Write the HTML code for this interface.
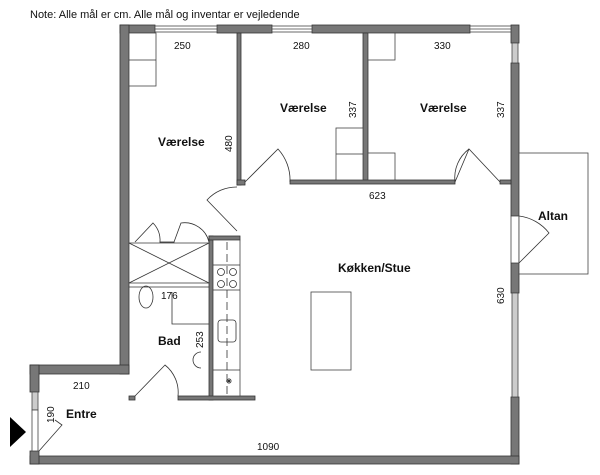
<!DOCTYPE html>
<html><head><meta charset="utf-8"><style>
body{margin:0;background:#fff}
svg{display:block}
text{font-family:"Liberation Sans",sans-serif;fill:#111}
.b{font-weight:bold;font-size:12px}
.s{font-size:10px}
</style></head><body>
<svg width="600" height="475" viewBox="0 0 600 475">
<text x="30" y="18" style="font-size:11px">Note: Alle mål er cm. Alle mål og inventar er vejledende</text>
<g fill="#777" stroke="#333" stroke-width="0.8">
<!-- top wall -->
<rect x="120" y="25" width="35" height="8"/>
<rect x="217" y="25" width="55" height="8"/>
<rect x="312" y="25" width="158" height="8"/>
<!-- right wall -->
<rect x="511" y="25" width="8" height="18"/>
<rect x="511" y="63" width="8" height="153"/>
<rect x="511" y="263" width="8" height="30"/>
<rect x="511" y="397" width="8" height="67"/>
<!-- bottom -->
<rect x="30" y="456" width="489" height="8"/>
<!-- left walls -->
<rect x="120" y="25" width="9" height="349"/>
<rect x="30" y="365" width="99" height="9"/>
<rect x="30" y="365" width="9" height="27"/>
<rect x="30" y="451" width="9" height="13"/>
<!-- interior -->
<rect x="237" y="33" width="4" height="152"/>
<rect x="363" y="33" width="5" height="150"/>
<rect x="290" y="180" width="165" height="4"/>
<rect x="500" y="180" width="11" height="4"/>
<rect x="237" y="180" width="8" height="5"/>
<rect x="209" y="236" width="4" height="164"/>
<rect x="209" y="236" width="31" height="4"/>
<rect x="129" y="396" width="6" height="4"/>
<rect x="178" y="396" width="77" height="4"/>
<rect x="160" y="242" width="14" height="4"/>
</g>
<g fill="#fff" stroke="#444" stroke-width="0.8">
<!-- windows -->
<rect x="155" y="26" width="62" height="6"/><line x1="155" y1="29" x2="217" y2="29"/>
<rect x="272" y="26" width="40" height="6"/><line x1="272" y1="29" x2="312" y2="29"/>
<rect x="470" y="26" width="41" height="6"/><line x1="470" y1="29" x2="511" y2="29"/>
<rect x="512" y="43" width="6" height="20" fill="#ccc"/>
<rect x="512" y="293" width="6" height="104" fill="#ccc"/>
<rect x="32" y="392" width="6" height="18" fill="#ccc"/>
<rect x="32" y="410" width="6" height="41"/>
<rect x="511" y="216" width="8" height="47"/>
<!-- altan -->
<rect x="519" y="153" width="69" height="121"/>
<!-- island -->
<rect x="311" y="292" width="40" height="78"/>
<!-- counter -->
<rect x="213" y="240" width="27" height="156"/>
<!-- closet -->
<rect x="129" y="243" width="80" height="40"/>
<rect x="129" y="287" width="80" height="0"/>
<!-- wardrobes -->
<rect x="129" y="33" width="27" height="53"/>
<rect x="336" y="128" width="27" height="52"/>
<rect x="368" y="33" width="27" height="27"/>
<rect x="368" y="153" width="27" height="27"/>
</g>
<g fill="none" stroke="#333" stroke-width="0.8">
<line x1="129" y1="60" x2="156" y2="60"/>
<line x1="336" y1="154" x2="363" y2="154"/>
<line x1="129" y1="243" x2="209" y2="283"/><line x1="209" y1="243" x2="129" y2="283"/>
<line x1="129" y1="287" x2="209" y2="287"/>
<line x1="227" y1="242" x2="227" y2="395" stroke-dasharray="8,4"/>
<line x1="213" y1="265" x2="240" y2="265"/><line x1="213" y1="290" x2="240" y2="290"/><line x1="213" y1="370" x2="240" y2="370"/>
<circle cx="221" cy="272" r="3.5"/><circle cx="233" cy="272" r="3.5"/><circle cx="221" cy="284" r="3.5"/><circle cx="233" cy="284" r="3.5"/>
<rect x="218" y="320" width="18" height="22" rx="3"/>
<path d="M226 381 l6 0 M229 378 l0 6 M227 379 l4 4 M231 379 l-4 4"/>
<ellipse cx="146" cy="297" rx="7" ry="11"/>
<path d="M201 352 a8 8 0 0 0 0 16"/>
<path d="M172 292 L172 324 L209 324"/>
<!-- doors -->
<path d="M245 182 L278 149 A46 46 0 0 1 290 182"/>
<path d="M455 182 L469 149 L500 182"/>
<path d="M455 182 A36 36 0 0 1 469 149"/>
<path d="M237 187 A40 40 0 0 0 207 200 L237 231"/>
<path d="M135 396 L165 365 A35 35 0 0 1 178 396"/>
<path d="M135 242 L153 223 A25 25 0 0 1 160 242 M174 242 L181 223 A25 25 0 0 1 209 242"/>
<path d="M519 263 L549 233 A45 45 0 0 0 519 216"/>
<path d="M39 451 L62 425 L55 420"/>
</g>
<polygon points="10,417 26,432 10,447" fill="#000"/>
<text class="b" x="158" y="146">Værelse</text>
<text class="b" x="280" y="112">Værelse</text>
<text class="b" x="420" y="112">Værelse</text>
<text class="b" x="338" y="272">Køkken/Stue</text>
<text class="b" x="538" y="220">Altan</text>
<text class="b" x="158" y="345">Bad</text>
<text class="b" x="66" y="418">Entre</text>
<text class="s" x="174" y="49">250</text>
<text class="s" x="293" y="49">280</text>
<text class="s" x="434" y="49">330</text>
<text class="s" x="369" y="199">623</text>
<text class="s" x="161" y="299">176</text>
<text class="s" x="73" y="389">210</text>
<text class="s" x="257" y="450">1090</text>
<text class="s" transform="translate(232,152) rotate(-90)">480</text>
<text class="s" transform="translate(356,118) rotate(-90)">337</text>
<text class="s" transform="translate(504,118) rotate(-90)">337</text>
<text class="s" transform="translate(504,304) rotate(-90)">630</text>
<text class="s" transform="translate(203,348) rotate(-90)">253</text>
<text class="s" transform="translate(54,423) rotate(-90)">190</text>
</svg>
</body></html>
